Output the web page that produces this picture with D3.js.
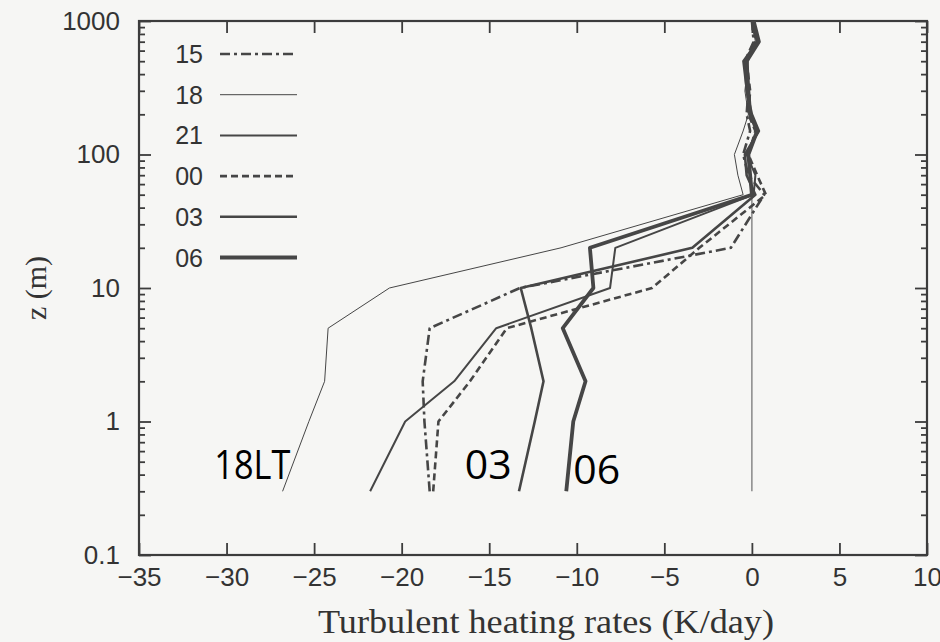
<!DOCTYPE html>
<html>
<head>
<meta charset="utf-8">
<script src="https://cdn.jsdelivr.net/npm/d3@7"></script>
<style>
  html, body { margin: 0; padding: 0; background: #f6f6f4; }
  svg { display: block; }
</style>
</head>
<body>
<svg id="chart" width="940" height="642"></svg>
<script>
// ---- data ----
const levels = [0.3, 1, 2, 5, 10, 20, 50, 70, 100, 150, 200, 300, 500, 700, 1000];
const series15 = [-18.4, -18.7, -18.8, -18.4, -13.25, -1.2, 0.7, -0.2, -0.5, -0.1, -0.3, -0.2, -0.4, 0.1, 0.0];
const series18 = [-26.8, -25.3, -24.4, -24.2, -20.7, -10.9, -0.5, -0.8, -1.0, -0.5, -0.2, -0.4, -0.2, 0.2, 0.0];
const series21 = [-21.8, -19.8, -17.0, -14.6, -8.1, -7.8, 0.1, 0.2, -0.3, 0.3, -0.1, -0.3, -0.5, 0.3, 0.1];
const series00 = [-18.2, -17.9, -16.1, -14.0, -5.7, -3.0, 0.8, 0.3, -0.2, 0.2, -0.2, -0.1, -0.3, 0.2, 0.1];
const series03 = [-13.3, -12.4, -11.9, -12.6, -13.2, -3.4, 0.2, -0.3, -0.4, 0.4, 0.0, -0.3, -0.4, 0.3, 0.0];
const series06 = [-10.6, -10.2, -9.5, -10.8, -9.05, -9.25, 0.0, -0.1, -0.2, 0.3, -0.1, -0.2, -0.3, 0.4, 0.1];
const seriesNames = ["15", "18", "21", "00", "03", "06"];
const xTicks = [-35, -30, -25, -20, -15, -10, -5, 0, 5, 10];
const yTicks = [0.1, 1, 10, 100, 1000];
const zeroLine = [0.3, 50];
const annotations = ["18LT", "03", "06"];
const annotationAt = [[-30.7, 0.3], [-16.4, 0.3], [-10.2, 0.3]];

// ---- styles ----
const styles = {
  "15": { w: 2.6, dash: "10,4,3,4" },
  "18": { w: 1.0, dash: null },
  "21": { w: 2.0, dash: null },
  "00": { w: 2.6, dash: "7,4" },
  "03": { w: 2.6, dash: null },
  "06": { w: 3.8, dash: null }
};
const lineColor = "#464646";

const svg = d3.select("#chart");
const L = 139, R = 927, T = 21, B = 555;

const x = d3.scaleLinear().domain([-35, 10]).range([L, R]);
const y = d3.scaleLog().domain([0.1, 1000]).range([B, T]);

const data = [series15, series18, series21, series00, series03, series06].map((vals, i) => ({
  name: seriesNames[i],
  pts: vals.map((v, j) => ({ v, z: levels[j] }))
}));

const minorTicks = [];
for (let d = 0.1; d < 1000; d *= 10) {
  for (let k = 2; k <= 9; k++) minorTicks.push(+(d * k).toPrecision(3));
}

const axisColor = "#3c3c3c";
const tickFont = "Liberation Sans, Arial, Helvetica, sans-serif";

function styleAxis(g) {
  g.select(".domain").remove();
  g.selectAll(".tick line").attr("stroke", axisColor).attr("stroke-width", 1.8);
  g.selectAll(".tick text").attr("fill", "#333").attr("font-family", tickFont).attr("font-size", 26);
}

// bottom axis
svg.append("g").attr("transform", `translate(0,${B})`)
  .call(d3.axisBottom(x).tickValues(xTicks).tickSizeInner(-12).tickSizeOuter(0).tickPadding(13))
  .call(styleAxis);
// top axis
svg.append("g").attr("transform", `translate(0,${T})`)
  .call(d3.axisTop(x).tickValues(xTicks).tickSizeInner(-12).tickSizeOuter(0).tickFormat(""))
  .call(styleAxis);
// left axis
svg.append("g").attr("transform", `translate(${L},0)`)
  .call(d3.axisLeft(y).tickValues(yTicks).tickSizeInner(-12).tickSizeOuter(0).tickPadding(19).tickFormat(d3.format("~g")))
  .call(styleAxis);
svg.append("g").attr("transform", `translate(${L},0)`)
  .call(d3.axisLeft(y).tickValues(minorTicks).tickSizeInner(-6).tickSizeOuter(0).tickFormat(""))
  .call(styleAxis);
// right axis
svg.append("g").attr("transform", `translate(${R},0)`)
  .call(d3.axisRight(y).tickValues(yTicks).tickSizeInner(-12).tickSizeOuter(0).tickFormat(""))
  .call(styleAxis);
svg.append("g").attr("transform", `translate(${R},0)`)
  .call(d3.axisRight(y).tickValues(minorTicks).tickSizeInner(-6).tickSizeOuter(0).tickFormat(""))
  .call(styleAxis);

// frame
svg.append("rect").attr("x", L).attr("y", T).attr("width", R - L).attr("height", B - T)
  .attr("fill", "none").attr("stroke", axisColor).attr("stroke-width", 2.2);

// zero line
svg.append("line")
  .attr("x1", x(0)).attr("x2", x(0))
  .attr("y1", y(zeroLine[0])).attr("y2", y(zeroLine[1]))
  .attr("stroke", "#777").attr("stroke-width", 1.3);

// curves
const line = d3.line().x(d => x(d.v)).y(d => y(d.z));
svg.append("g").selectAll("path").data(data).join("path")
  .attr("d", d => line(d.pts))
  .attr("fill", "none")
  .attr("stroke", lineColor)
  .attr("stroke-linejoin", "round")
  .attr("stroke-width", d => styles[d.name].w)
  .attr("stroke-dasharray", d => styles[d.name].dash);

// legend
const lg = svg.append("g");
seriesNames.forEach((n, i) => {
  const cy = 54 + i * 40.7;
  lg.append("text").attr("x", 203).attr("y", cy).attr("dy", "0.36em")
    .attr("text-anchor", "end").attr("font-family", tickFont).attr("font-size", 25)
    .attr("fill", "#333").text(n);
  lg.append("line").attr("x1", 220).attr("x2", 297).attr("y1", cy).attr("y2", cy)
    .attr("stroke", lineColor).attr("stroke-width", styles[n].w)
    .attr("stroke-dasharray", styles[n].dash);
});

// axis titles
svg.append("text")
  .attr("transform", `translate(46,${y(10)}) rotate(-90)`)
  .attr("text-anchor", "middle")
  .attr("font-family", "Liberation Serif, Times New Roman, serif")
  .attr("font-size", 30).attr("fill", "#333")
  .text("z (m)");
svg.append("text")
  .attr("x", 546).attr("y", 633)
  .attr("text-anchor", "middle")
  .attr("font-family", "Liberation Serif, Times New Roman, serif")
  .attr("font-size", 33).attr("fill", "#333")
  .attr("textLength", 456).attr("lengthAdjust", "spacingAndGlyphs")
  .text("Turbulent heating rates (K/day)");

// annotations
const ann = svg.append("g");
annotations.forEach((t, i) => {
  const el = ann.append("text")
    .attr("x", x(annotationAt[i][0]))
    .attr("y", y(annotationAt[i][1]) - 12 + (i === 2 ? 5 : 0))
    .attr("font-family", "Open Sans, Noto Sans, sans-serif")
    .attr("font-size", 41).attr("fill", "#000")
    .text(t);
  if (t.length > 2) el.attr("textLength", 76).attr("lengthAdjust", "spacingAndGlyphs");
});
</script>
</body>
</html>
